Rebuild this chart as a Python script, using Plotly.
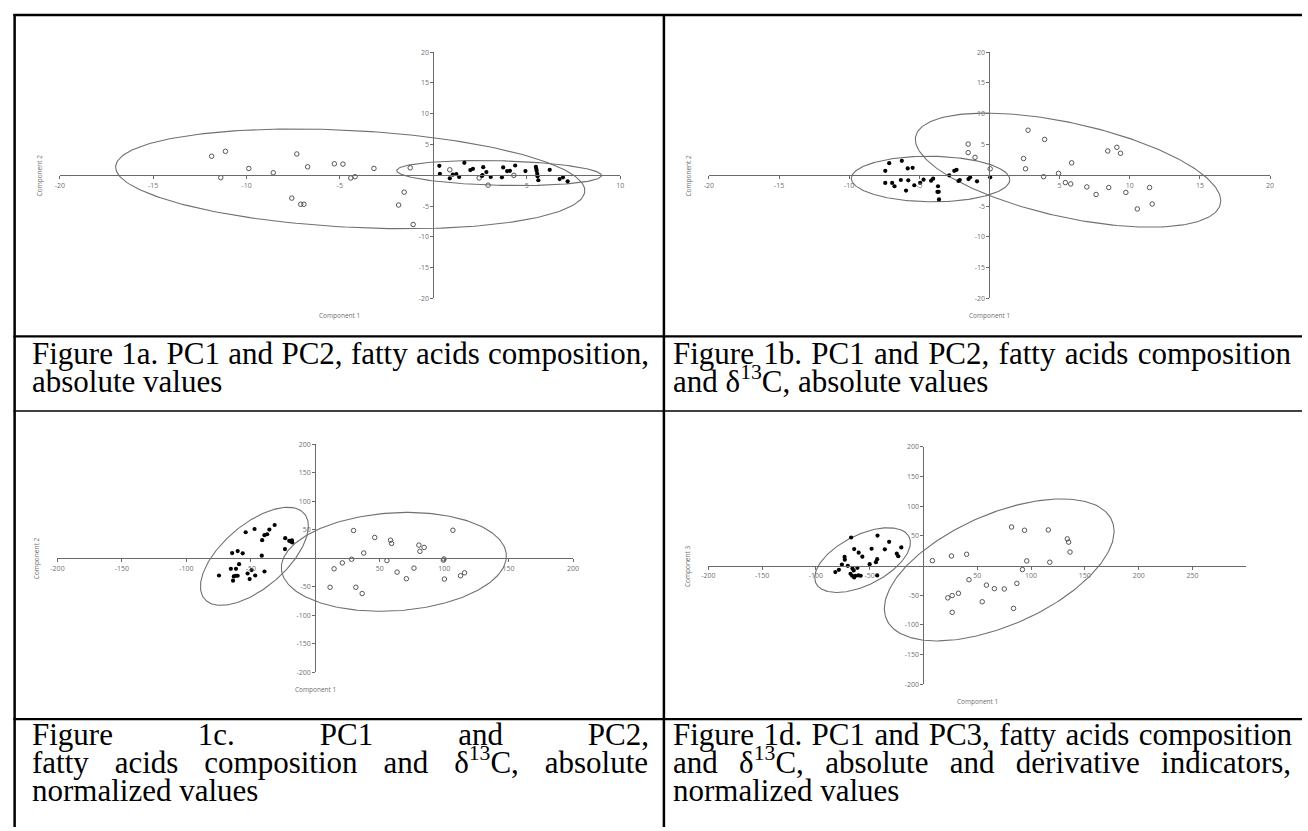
import numpy as np
import plotly.graph_objects as go

W, H = 1308, 831

# ---------------- data ----------------
# Figure 1a
a_open_x = [-11.87, -11.13, -11.38, -9.88, -8.57, -7.31, -6.73, -7.58, -7.10, -6.93, -5.30, -4.84, -4.42, -4.19,
            -3.18, -1.24, -1.56, -1.86, -1.08, 0.88, 2.45, 2.93, 4.31]
a_open_y = [3.10, 3.90, -0.38, 1.12, 0.42, 3.47, 1.38, -3.70, -4.70, -4.70, 1.87, 1.82, -0.43, -0.22,
            1.12, 1.22, -2.73, -4.82, -7.98, 0.90, -0.43, -1.60, 0.00]
a_fill_x = [0.32, 0.35, 0.88, 1.04, 1.23, 1.38, 1.66, 1.98, 2.12, 2.67, 2.84, 2.60, 2.63, 3.07, 3.67,
            3.74, 3.95, 4.10, 4.38, 4.93, 5.49, 5.51, 5.53, 5.56, 5.58, 5.62, 6.23, 6.76, 6.94, 7.19]
a_fill_y = [1.55, 0.26, -0.48, 0.10, 0.21, -0.27, 2.03, 0.85, 1.06, 1.33, 0.53, -0.11, 0.05, -0.27, -0.32,
            1.28, 0.69, 0.74, 1.60, 0.69, 1.38, 1.06, 0.74, 0.26, -0.16, -0.80, 0.90, -0.60, -0.32, -0.97]
# ellipse: centre x, centre y, semi-axis a, semi-axis b, angle (deg)
a_ell_open = [-4.45, -0.57, 12.79, 7.73, -13.75]
a_ell_fill = [3.52, 0.37, 5.50, 1.99, -4.8]

# Figure 1b
b_open_x = [2.75, 3.93, 2.43, 2.57, 3.86, 0.05, -1.03, 4.92, 5.41, 5.79, 5.86, 6.94, 7.60, 8.43, 8.50,
            9.08, 9.34, 9.72, 10.54, 11.41, 11.60, -1.52, -1.52]
b_open_y = [7.33, 5.83, 2.73, 1.06, -0.22, 1.06, 2.92, 0.32, -1.18, -1.40, 2.03, -1.88, -3.11, 3.96, -1.98,
            4.55, 3.58, -2.78, -5.46, -1.98, -4.66, 5.08, 3.69]
b_fill_x = [-7.15, -6.25, -7.43, -5.83, -5.48, -7.43, -6.94, -6.77, -6.32, -5.79, -5.95, -5.36, -4.94, -4.70,
            -4.16, -4.02, -3.67, -3.71, -3.62, -3.60, -2.87, -2.51, -2.35, -2.21, -2.12, -1.50, -1.38, -0.89, 0.05]
b_fill_y = [1.98, 2.35, 0.74, 1.12, 1.22, -1.24, -1.24, -1.77, -0.76, -0.81, -2.47, -1.61, -1.24, -0.70,
            -0.86, -0.54, -1.77, -2.68, -2.68, -3.92, 0.00, 0.74, 0.90, -0.92, -0.76, -0.60, -0.32, -0.97, -0.32]
b_ell_open = [5.60, 0.85, 12.60, 6.75, -36.6]
b_ell_fill = [-4.20, -0.60, 5.65, 3.70, -2.0]

# Figure 1c
c_open_x = [29.7, 46.1, 58.4, 59.2, 37.6, 21.0, 28.2, 14.6, 55.6, 63.5, 70.7, 76.6, 80.4, 81.2, 84.5,
            99.4, 99.9, 106.8, 100.2, 112.7, 115.8, 11.5, 31.5, 36.4]
c_open_y = [49.0, 36.8, 32.0, 26.4, 9.5, -7.8, -1.4, -18.2, -3.8, -24.0, -35.6, -17.0, 23.4, 12.5, 19.4,
            -3.0, -1.0, 49.5, -36.2, -30.4, -25.2, -50.6, -50.6, -61.6]
c_fill_x = [-74.7, -64.5, -60.2, -56.3, -65.5, -61.5, -59.1, -63.2, -61.7, -60.2, -63.8, -54.0, -47.1, -52.5,
            -50.9, -49.4, -46.6, -41.2, -41.5, -39.4, -37.3, -35.6, -39.4, -31.5, -23.3, -23.5, -20.2, -18.9,
            -18.1, -17.9]
c_fill_y = [-29.9, 9.5, 13.0, 9.0, -18.2, -18.2, -10.1, -31.6, -30.4, -30.4, -39.0, 46.0, 51.7, -26.4,
            -36.2, -20.5, -29.9, 32.1, 4.9, 40.8, 42.5, 50.7, -22.9, 58.7, 35.6, 16.5, 30.9, 29.9, 31.6, 28.1]
c_ell_open = [61.0, -6.0, 92.0, 81.8, 43.6]
c_ell_fill = [-47.2, 3.75, 90.4, 31.4, 70.9]

# Figure 1d
d_open_x = [8.3, 26.0, 40.1, 42.3, 58.5, 22.6, 26.7, 32.5, 26.7, 54.6, 65.9, 75.1, 86.8, 81.9, 93.9,
            116.0, 133.7, 134.9, 136.2, 96.0, 117.4, 92.0, 83.7]
d_open_y = [8.3, 16.2, 19.0, -23.8, -33.0, -54.4, -50.6, -46.7, -78.8, -61.0, -38.9, -39.4, -30.0, 65.0,
            59.5, 60.0, 45.0, 39.5, 22.8, 7.8, 5.6, -6.7, -72.2]
d_fill_x = [-67.2, -42.7, -31.9, -64.4, -60.2, -56.8, -48.2, -35.9, -24.8, -23.4, -20.6, -73.3, -73.1, -75.8,
            -70.3, -81.9, -78.6, -66.0, -64.8, -61.4, -67.8, -66.3, -64.4, -63.2, -60.5, -58.3, -50.0, -44.2,
            -43.0, -43.0]
d_fill_y = [47.3, 50.6, 40.0, 27.8, 21.7, 15.0, 28.3, 27.3, 20.0, 15.7, 30.6, 14.5, 10.0, 1.7,
            -0.5, -11.0, -7.2, -5.0, -8.3, -3.8, -13.8, -17.2, -20.0, -17.2, -16.7, -17.2, 2.3, 5.7,
            10.7, -16.7]
d_ell_open = [70.4, -7.35, 141.25, 75.9, 50.94]
d_ell_fill = [-56.6, 9.2, 62.2, 32.8, 55.4]

# axis ranges / tick labels
a_xrange, a_yrange = [-20, 10], [-20, 20]
a_xticks, a_yticks = [-20, -15, -10, -5, 5, 10], [-20, -15, -10, -5, 5, 10, 15, 20]
b_xrange, b_yrange = [-20, 20], [-20, 20]
b_xticks, b_yticks = [-20, -15, -10, -5, 5, 10, 15, 20], [-20, -15, -10, -5, 5, 10, 15, 20]
c_xrange, c_yrange = [-200, 200], [-200, 200]
c_xticks, c_yticks = [-200, -150, -100, -50, 50, 100, 150, 200], [-200, -150, -100, -50, 50, 100, 150, 200]
d_xrange, d_yrange = [-200, 300], [-200, 200]
d_xticks, d_yticks = [-200, -150, -100, -50, 50, 100, 150, 200, 250], [-200, -150, -100, -50, 50, 100, 150, 200]

x_title = "Component 1"
a_ytitle, b_ytitle, c_ytitle, d_ytitle = "Component 2", "Component 2", "Component 2", "Component 3"

captions = {
    "a": [("Figure 1a. PC1 and PC2, fatty acids composition,", True), ("absolute values", False)],
    "b": [("Figure 1b. PC1 and PC2, fatty acids composition", True), ("and δ<sup>13</sup>C, absolute values", False)],
    "c": [("Figure 1c. PC1 and PC2,", True), ("fatty acids composition and δ<sup>13</sup>C, absolute", True),
          ("normalized values", False)],
    "d": [("Figure 1d. PC1 and PC3, fatty acids composition", True),
          ("and δ<sup>13</sup>C, absolute and derivative indicators,", True), ("normalized values", False)],
}

# ---------------- layout geometry (pixels) ----------------
panels = [
    dict(xr=a_xrange, yr=a_yrange, xt=a_xticks, yt=a_yticks, ytitle=a_ytitle, px=(53.3, 619.3), py=(47.7, 296.7),
         ox=a_open_x, oy=a_open_y, fx=a_fill_x, fy=a_fill_y, e_open=a_ell_open, e_fill=a_ell_fill),
    dict(xr=b_xrange, yr=b_yrange, xt=b_xticks, yt=b_yticks, ytitle=b_ytitle, px=(709.0, 1275.7), py=(47.7, 296.7),
         ox=b_open_x, oy=b_open_y, fx=b_fill_x, fy=b_fill_y, e_open=b_ell_open, e_fill=b_ell_fill),
    dict(xr=c_xrange, yr=c_yrange, xt=c_xticks, yt=c_yticks, ytitle=c_ytitle, px=(51.0, 571.7), py=(444.3, 674.7),
         ox=c_open_x, oy=c_open_y, fx=c_fill_x, fy=c_fill_y, e_open=c_ell_open, e_fill=c_ell_fill),
    dict(xr=d_xrange, yr=d_yrange, xt=d_xticks, yt=d_yticks, ytitle=d_ytitle, px=(708.3, 1251.7), py=(446.7, 686.7),
         ox=d_open_x, oy=d_open_y, fx=d_fill_x, fy=d_fill_y, e_open=d_ell_open, e_fill=d_ell_fill),
]

AXIS_COL = "#6a6a6a"
TICK_COL = "#707070"
ELL_COL = "#707070"


def ellipse(p, n=240):
    cx, cy, a, b, deg = p
    t = np.linspace(0, 2 * np.pi, n)
    th = np.radians(deg)
    x = cx + a * np.cos(t) * np.cos(th) - b * np.sin(t) * np.sin(th)
    y = cy + a * np.cos(t) * np.sin(th) + b * np.sin(t) * np.cos(th)
    return x, y


fig = go.Figure()
layout = dict(width=W, height=H, margin=dict(l=0, r=0, t=0, b=0), paper_bgcolor="white",
              plot_bgcolor="rgba(0,0,0,0)", showlegend=False)
annotations = []
shapes = []

for i, p in enumerate(panels, start=1):
    xs = "" if i == 1 else str(i)
    xa, ya = "x" + xs, "y" + xs
    px0, px1 = p["px"]
    pyt, pyb = p["py"]
    xr, yr = p["xr"], p["yr"]
    # pixel positions of the data origin
    ox_px = px0 + (0 - xr[0]) / (xr[1] - xr[0]) * (px1 - px0)
    oy_px = pyt + (yr[1] - 0) / (yr[1] - yr[0]) * (pyb - pyt)
    common = dict(showgrid=False, zeroline=False, showline=True, linecolor=AXIS_COL, linewidth=1,
                  ticks="outside", ticklen=3, tickwidth=1, tickcolor=AXIS_COL,
                  tickfont=dict(family="Open Sans", size=7, color=TICK_COL), fixedrange=True)
    layout["xaxis" + xs] = dict(common, domain=[px0 / W, px1 / W], range=xr, anchor="free",
                                position=1 - oy_px / H, tickvals=p["xt"], ticktext=[str(v) for v in p["xt"]],
                                side="bottom")
    layout["yaxis" + xs] = dict(common, domain=[1 - pyb / H, 1 - pyt / H], range=yr, anchor="free",
                                position=ox_px / W, tickvals=p["yt"], ticktext=[str(v) for v in p["yt"]],
                                side="left")

    ex, ey = ellipse(p["e_open"])
    fig.add_trace(go.Scatter(x=ex, y=ey, mode="lines", line=dict(color=ELL_COL, width=1.1),
                             xaxis=xa, yaxis=ya, hoverinfo="skip"))
    ex, ey = ellipse(p["e_fill"])
    fig.add_trace(go.Scatter(x=ex, y=ey, mode="lines", line=dict(color=ELL_COL, width=1.1),
                             xaxis=xa, yaxis=ya, hoverinfo="skip"))
    fig.add_trace(go.Scatter(x=p["ox"], y=p["oy"], mode="markers", xaxis=xa, yaxis=ya,
                             marker=dict(symbol="circle-open", size=4.5, color="#555555", line=dict(width=1))))
    fig.add_trace(go.Scatter(x=p["fx"], y=p["fy"], mode="markers", xaxis=xa, yaxis=ya,
                             marker=dict(symbol="circle", size=4.2, color="#000000")))

    annotations.append(dict(text=x_title, x=(px0 + px1) / 2 / W, y=1 - (pyb + 17) / H, xref="paper", yref="paper",
                            xanchor="center", yanchor="middle", showarrow=False,
                            font=dict(family="Open Sans", size=6.5, color=TICK_COL)))
    annotations.append(dict(text=p["ytitle"], x=(px0 - 21) / W, y=1 - oy_px / H, xref="paper", yref="paper",
                            xanchor="center", yanchor="middle", showarrow=False, textangle=-90,
                            font=dict(family="Open Sans", size=6.5, color=TICK_COL)))

# ---------------- captions (one text block per caption, justified lines) ----------------
CAP_FS = 31          # glyph size
LINE_PX = 28         # baseline-to-baseline distance
CAP_FONT = "Liberation Serif, Times New Roman, serif"
TIMES = {'a': 444, 'b': 500, 'c': 444, 'd': 500, 'e': 444, 'f': 333, 'g': 500, 'h': 500, 'i': 278, 'l': 278,
         'm': 778, 'n': 500, 'o': 500, 'p': 500, 'r': 333, 's': 389, 't': 278, 'u': 500, 'v': 500, 'y': 500,
         'z': 444, 'F': 556, 'P': 556, 'C': 667, '1': 500, '2': 500, '3': 500, '.': 250, ',': 250, ' ': 250,
         'δ': 500}
NBSP = "\u00a0"


def word_width(wd):
    w = 0.0
    sup = False
    i = 0
    while i < len(wd):
        if wd.startswith("<sup>", i):
            sup = True; i += 5; continue
        if wd.startswith("</sup>", i):
            sup = False; i += 6; continue
        w += TIMES.get(wd[i], 500) * (0.7 if sup else 1.0)
        i += 1
    return w / 1000 * CAP_FS


def span(s, fs):
    return '<span style="font-size:%.2fpx">%s</span>' % (fs, s)


def gap_str(g):
    sp = 0.25 * CAP_FS
    n = int(g // sp)
    r = g - n * sp
    out = span(NBSP * n, CAP_FS) if n > 0 else ""
    if r > 0.05:
        out += span(NBSP, 4 * r)
    return out


cap_geom = {"a": (25, 642, 362), "b": (673, 1291, 362),
            "c": (25, 642, 747), "d": (673, 1292, 747)}

for key, lines in captions.items():
    x0, x1, base1 = cap_geom[key]
    parts = []
    for txt, just in lines:
        words = txt.split(" ")
        if not just:
            parts.append(span(NBSP.join(words), CAP_FS))
            continue
        widths = [word_width(w) for w in words]
        gap = (x1 - x0 - sum(widths)) / (len(words) - 1)
        s = ""
        for k, wd in enumerate(words):
            if k:
                s += gap_str(gap)
            s += span(wd, CAP_FS)
        parts.append(s)
    annotations.append(dict(text="<br>".join(parts), x=x0 / W, y=1 - (base1 - 0.891 * CAP_FS) / H,
                            xref="paper", yref="paper", xanchor="left", yanchor="top", align="left",
                            showarrow=False, borderpad=0, borderwidth=0,
                            font=dict(family=CAP_FONT, size=LINE_PX / 1.3, color="black")))

# ---------------- table rules ----------------
def hline(y, xa, xb, w):
    shapes.append(dict(type="line", xref="paper", yref="paper", x0=xa / W, x1=xb / W, y0=1 - y / H, y1=1 - y / H,
                       line=dict(color="black", width=w)))


def vline(x, ya, yb, w):
    shapes.append(dict(type="line", xref="paper", yref="paper", x0=x / W, x1=x / W, y0=1 - ya / H, y1=1 - yb / H,
                       line=dict(color="black", width=w)))


hline(10, 6.5, W, 2.5)
hline(335, 6.5, W, 2.2)
hline(410.5, 6.5, W, 1.5)
hline(722, 6.5, W, 2.2)
vline(7.7, 9, H, 2.5)
vline(663.5, 9, H, 2.5)

layout["annotations"] = annotations
layout["shapes"] = shapes
fig.update_layout(**layout)
fig.write_html("out.html", config={"displayModeBar": False},
               post_script="document.documentElement.style.margin='0';document.body.style.margin='0';"
                           "document.body.style.overflow='hidden';")
